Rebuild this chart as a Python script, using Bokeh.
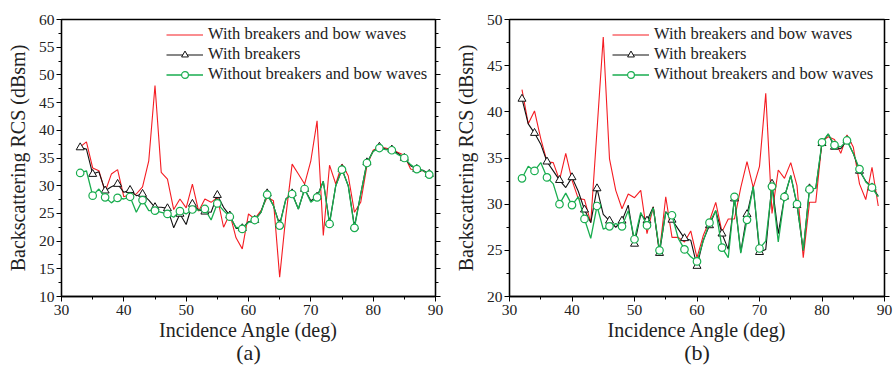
from bokeh.plotting import figure
from bokeh.layouts import row
from bokeh.models import (Range1d, LinearAxis, Legend, LegendItem, Title,
                          SingleIntervalTicker, CustomJSTickFormatter)
from bokeh.embed import file_html
from bokeh.resources import INLINE

# ---------------- data ----------------
angle_a = list(range(33, 90))
red_a = [37.0, 37.9, 33.2, 32.7, 28.9, 32.1, 32.9, 28.0, 28.4, 28.5,
         29.8, 34.5, 48.1, 32.4, 31.2, 25.7, 27.6, 26.0, 30.3, 25.4,
         27.6, 27.0, 27.9, 22.5, 24.9, 20.6, 18.6, 24.9, 24.0, 25.5,
         27.9, 27.3, 13.5, 24.6, 33.9, 32.1, 30.3, 34.5, 41.7, 21.0,
         33.7, 30.3, 33.9, 31.8, 25.2, 27.0, 33.6, 36.4, 37.0, 36.8,
         36.5, 36.0, 35.5, 33.0, 32.7, 32.7, 31.9]
black_a = [36.9, 36.6, 32.1, 32.5, 29.1, 29.8, 30.3, 28.8, 29.2, 28.2,
           28.5, 27.4, 26.1, 26.1, 25.9, 22.4, 24.9, 23.0, 26.7, 25.6,
           25.3, 25.2, 28.3, 26.1, 24.6, 22.3, 22.3, 23.5, 23.8, 25.2,
           28.6, 26.4, 23.0, 27.6, 28.6, 25.8, 29.4, 27.3, 28.0, 30.8,
           23.3, 30.0, 33.0, 30.0, 22.6, 28.5, 34.2, 36.2, 37.0, 36.6,
           36.5, 35.8, 35.0, 33.6, 33.0, 32.8, 32.1]
green_a = [32.3, 32.7, 28.2, 29.4, 27.9, 26.9, 27.8, 27.6, 28.0, 25.2,
           27.4, 25.5, 25.5, 25.2, 24.9, 24.3, 25.4, 24.9, 25.7, 25.6,
           25.8, 23.8, 26.8, 25.5, 24.4, 22.5, 22.2, 23.4, 23.8, 25.2,
           28.4, 26.4, 22.8, 27.6, 28.5, 25.8, 29.4, 27.0, 27.9, 30.8,
           23.1, 30.0, 32.9, 30.0, 22.4, 28.5, 34.1, 36.2, 36.8, 36.5,
           36.4, 35.6, 35.0, 33.8, 33.0, 32.7, 32.0]

angle_b = list(range(32, 90))
red_b = [42.4, 38.7, 40.1, 37.1, 34.6, 34.5, 32.6, 35.5, 32.6, 30.6,
         30.5, 28.0, 38.0, 48.1, 34.9, 31.5, 29.5, 31.1, 30.7, 31.5,
         26.8, 29.7, 24.8, 30.8, 26.4, 26.4, 25.9, 27.1, 24.2, 26.6,
         28.2, 30.2, 27.0, 28.4, 28.4, 31.8, 34.6, 31.8, 34.1, 42.0,
         29.0, 33.7, 32.8, 34.5, 32.0, 24.2, 30.2, 30.2, 36.8, 37.3,
         37.0, 35.5, 37.5, 36.2, 32.2, 30.5, 34.0, 29.8]
black_b = [41.4, 38.7, 37.7, 36.5, 34.6, 33.6, 32.6, 31.8, 32.9, 31.4,
           29.4, 28.0, 31.7, 28.9, 28.2, 27.5, 28.2, 29.9, 25.7, 28.9,
           28.2, 29.7, 24.7, 29.2, 28.3, 27.3, 26.3, 26.1, 23.3, 26.1,
           27.7, 29.3, 26.8, 25.1, 30.6, 24.8, 28.9, 31.9, 24.8, 25.1,
           32.2, 26.8, 30.8, 33.1, 29.9, 25.0, 31.7, 31.7, 36.6, 37.6,
           36.2, 36.0, 36.9, 35.5, 33.6, 32.5, 31.8, 30.9]
green_b = [32.8, 34.1, 33.6, 34.5, 32.9, 32.2, 30.0, 31.2, 29.9, 30.8,
           28.4, 26.3, 29.8, 27.3, 27.6, 27.9, 27.6, 29.3, 26.2, 29.1,
           27.7, 29.6, 25.0, 29.1, 28.8, 26.3, 25.1, 24.3, 23.8, 26.0,
           28.0, 29.3, 25.3, 24.2, 30.8, 24.7, 28.3, 31.9, 25.2, 26.0,
           31.9, 25.9, 30.8, 33.1, 30.0, 25.0, 31.6, 31.7, 36.7, 37.6,
           36.4, 36.2, 36.9, 35.5, 33.8, 32.4, 31.8, 30.8]

series_names = ["With breakers and bow waves", "With breakers",
                "Without breakers and bow waves"]
x_label = "Incidence Angle (deg)"
y_label = "Backscattering RCS (dBsm)"

RED = "#f51c22"
BLACK = "#111111"
GREEN = "#19ad4f"
FONT = "Liberation Serif"
TXT = "#222222"


def make(angle, red, black, green, ymin, ymax, width, bl, br, tag, legx):
    p = figure(width=width, height=371, x_range=Range1d(30, 90),
               y_range=Range1d(ymin, ymax), output_backend="svg",
               toolbar_location=None, min_border_left=bl,
               min_border_right=br, min_border_top=19, min_border_bottom=75,
               background_fill_color="white", border_fill_color="white")
    p.xgrid.visible = False
    p.ygrid.visible = False
    p.outline_line_color = "black"
    p.outline_line_width = 1.3

    p.xaxis.ticker = SingleIntervalTicker(interval=10, num_minor_ticks=2)
    p.yaxis.ticker = SingleIntervalTicker(interval=5, num_minor_ticks=2)
    for ax, lab in ((p.xaxis[0], x_label), (p.yaxis[0], y_label)):
        ax.axis_line_width = 1.3
        ax.major_tick_out = 5
        ax.major_tick_in = 0
        ax.minor_tick_out = 3
        ax.minor_tick_in = 0
        ax.major_label_text_font = FONT
        ax.major_label_text_font_size = "15.5px"
        ax.major_label_text_color = TXT
        ax.major_label_standoff = 3
        ax.axis_label = lab
        ax.axis_label_text_font = FONT
        ax.axis_label_text_font_size = "20px"
        ax.axis_label_text_font_style = "normal"
        ax.axis_label_text_color = TXT
    p.yaxis.major_label_standoff = 2
    p.xaxis.axis_label_standoff = 1
    p.yaxis.axis_label_standoff = 7

    rax = LinearAxis(ticker=SingleIntervalTicker(interval=5, num_minor_ticks=2),
                     formatter=CustomJSTickFormatter(code="return ''"),
                     axis_line_width=1.3, major_tick_out=5, major_tick_in=0,
                     minor_tick_out=3, minor_tick_in=0, major_label_standoff=0)
    p.add_layout(rax, "right")

    r_red = p.line(angle, red, line_color=RED, line_width=1.1)
    r_blk = p.line(angle, black, line_color=BLACK, line_width=1.1)
    m_blk = p.scatter(angle[::2], black[::2], marker="triangle", size=8,
                      line_color=BLACK, fill_color="white", line_width=1.0)
    r_grn = p.line(angle, green, line_color=GREEN, line_width=1.3)
    m_grn = p.scatter(angle[::2], green[::2], marker="circle", size=7.5,
                      line_color=GREEN, fill_color="white", line_width=1.2)

    legend = Legend(items=[LegendItem(label=series_names[0], renderers=[r_red]),
                           LegendItem(label=series_names[1], renderers=[r_blk, m_blk]),
                           LegendItem(label=series_names[2], renderers=[r_grn, m_grn])],
                    location=(legx, 212), label_text_font=FONT,
                    label_text_font_size="16.5px", label_text_color=TXT,
                    glyph_width=37, glyph_height=17, label_height=17,
                    spacing=0, padding=0, margin=0, label_standoff=5,
                    border_line_alpha=0, background_fill_alpha=0)
    p.add_layout(legend, "center")

    p.add_layout(Title(text=tag, align="center", text_font=FONT,
                       text_font_size="22px", text_font_style="normal",
                       text_color=TXT, standoff=-8, vertical_align="top"),
                 "below")
    return p


pa = make(angle_a, red_a, black_a, green_a, 10, 60, 447, 61, 12, "(a)", 105)
pb = make(angle_b, red_b, black_b, green_b, 20, 50, 446, 62, 9, "(b)", 103)

layout = row(pa, pb, spacing=0)
open("out.html", "w").write(file_html(layout, INLINE))
